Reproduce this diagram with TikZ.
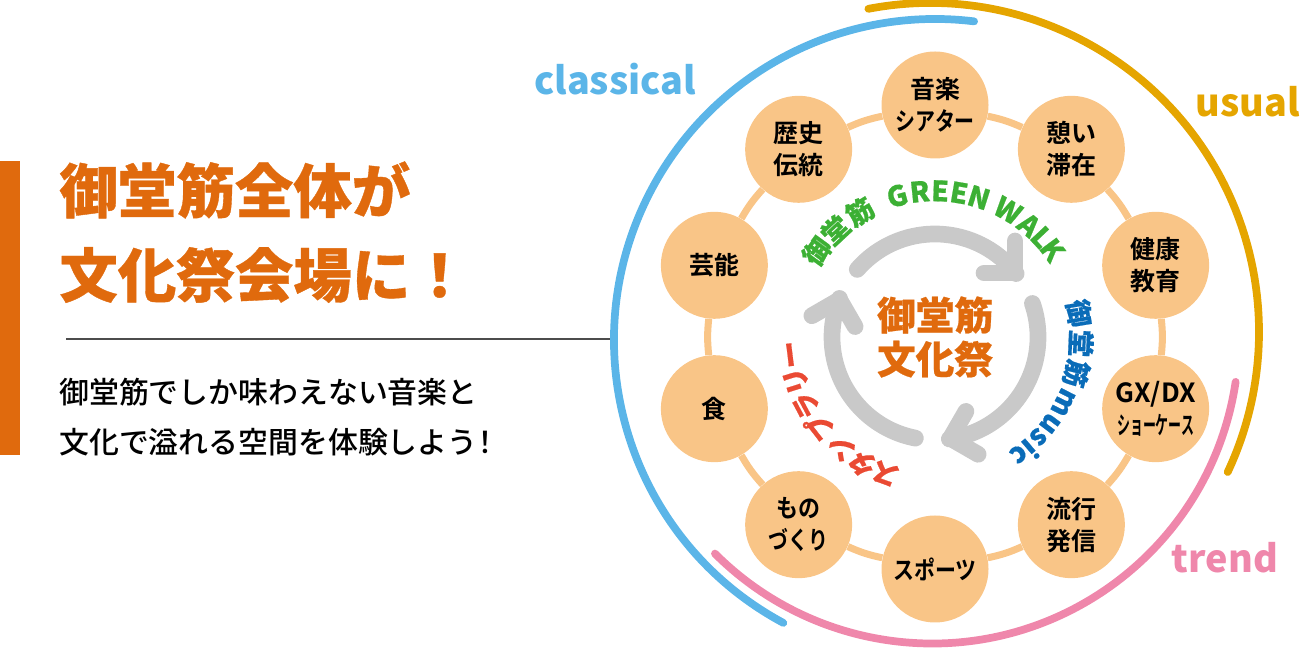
\documentclass[tikz,border=0pt]{standalone}
\usetikzlibrary{calc}
\usepackage{fontspec}
\setmainfont{Noto Sans CJK JP}
\newfontfamily\jpblack[FakeBold=0.6]{Noto Sans CJK JP Black}
\newfontfamily\jpplain{Noto Sans CJK JP Black}
\newfontfamily\jpbold{Noto Sans CJK JP Bold}
\newfontfamily\jpmed{Noto Sans CJK JP Medium}
\definecolor{festorange}{HTML}{E06A0D}
\definecolor{ringpeach}{HTML}{F9C587}
\definecolor{arrowgray}{HTML}{C9C9C9}
\definecolor{classblue}{HTML}{5BB5E8}
\definecolor{usualgold}{HTML}{E5A500}
\definecolor{trendpink}{HTML}{EF87AB}
\definecolor{walkgreen}{HTML}{3CB034}
\definecolor{musicblue}{HTML}{0A6CB8}
\definecolor{rallyred}{HTML}{EA4A33}
\newcommand\squeeze[2]{\scalebox{#1}[1]{#2}}
\tikzset{
  topic/.style={circle, fill=ringpeach, minimum size=107*0.02cm, inner sep=0pt, align=center,
    font=\jpbold\fontsize{14.2}{18.3}\selectfont},
  ringlink/.style={draw=ringpeach, line width=4pt},
  outerarc/.style={line width=4.4pt, line cap=round},
  turn/.style={draw=arrowgray, line width=9.5pt, line cap=round, line join=round},
  tag/.style={font=\jpplain\fontsize{21.5}{24}\selectfont},
  curved/.style={font=\jpblack\fontsize{15.5}{17}\selectfont, inner sep=0pt, text height=11.8pt, text depth=0pt},
  curvedlatin/.style={font=\jpblack\fontsize{16}{18}\selectfont, inner sep=0pt, text height=11.7pt, text depth=0pt},
  headline/.style={anchor=west, inner sep=0pt, text=festorange, font=\jpblack\fontsize{33.3}{38}\selectfont},
  bodyline/.style={anchor=west, inner sep=0pt, font=\jpmed\fontsize{17}{20}\selectfont},
}
\begin{document}
\begin{tikzpicture}[x=0.02cm,y=0.02cm]
\useasboundingbox (0,0) rectangle (1300,648);
\coordinate (C) at (935,311);
% left side
\fill[festorange] (0,193) rectangle (20,487);
\node[headline] (headA) at (59,458) {御堂筋全体が};
\node[headline] (headB) at (59,373) {文化祭会場に！};
\coordinate (ruleL) at (66,309);
\coordinate (ruleR) at (612,309);
\draw[black!70, line width=0.8pt] (ruleL) -- (ruleR);
\node[bodyline] (bodyA) at (59,256) {御堂筋でしか味わえない音楽と};
\node[bodyline] (bodyB) at (59,206) {文化で溢れる空間を体験しよう\kern-0.25em！};
% outer arcs
\draw[outerarc, classblue] (935,308) ++(241.8:321) arc[start angle=241.8, end angle=83, radius=321];
\draw[outerarc, usualgold] (930,316) ++(100.8:329) arc[start angle=100.8, end angle=-25.2, radius=329];
\draw[outerarc, trendpink] (932,311.5) ++(-8.5:307) arc[start angle=-8.5, end angle=-135, radius=307];
\node[tag, text=classblue] (classical) at (615,569) {classical};
\node[tag, text=usualgold] (usual) at (1248,546) {usual};
\node[tag, text=trendpink] (trend) at (1225,90) {trend};
% ring of topics
\foreach \a/\n/\t in {90/t0/{音楽\\\squeeze{.8}{シアター}}, 54/t1/{憩い\\滞在}, 18/t2/{健康\\教育},
  -18/t3/{{\fontsize{15}{15}\selectfont GX/DX}\\\squeeze{.52}{ショーケース}}, -54/t4/{流行\\発信}, -90/t5/{\squeeze{.84}{スポーツ}},
  -126/t6/{\squeeze{.88}{もの}\\\squeeze{.8}{づくり}}, -162/t7/{食}, -198/t8/{芸能}, -234/t9/{歴史\\伝統}}
  \node[topic] (\n) at ($(C)+(\a:232)$) {\t};
\foreach \i [remember=\i as \j (initially 9)] in {0,...,9}
  \draw[ringlink] (t\j) to[bend left=6] (t\i);
% turning arrows
\foreach \r in {0,-120,-240}{
  \begin{scope}[rotate around={\r:(C)}]
  \draw[turn] (C) ++(139:103) arc[start angle=139, end angle=38, radius=103];
  \draw[turn] (1015,407) -- (1015,375) -- (984,375);
  \end{scope}
}
% curved labels
\foreach \a/\c in {144/御,133/堂,121/筋}
  \node[curved, text=walkgreen, rotate=\a-90] at ($(C)+(\a:146)$) {\c};
\foreach \a/\c in {105/G,96/R,88/E,80.5/E,72.5/N,60/W,50/A,43/L,36.5/K}
  \node[curvedlatin, text=walkgreen, rotate=\a-90] at ($(C)+(\a:146)$) {\c};
\foreach \a/\c in {9.4/御,-2.5/堂,-14.5/筋}
  \node[curved, text=musicblue, rotate=\a-90] at ($(C)+(\a:146)$) {\c};
\foreach \a/\c in {-27/m,-37/u,-44/s,-49.5/i,-54.5/c}
  \node[curvedlatin, text=musicblue, rotate=\a-90] at ($(C)+(\a:146)$) {\c};
\foreach \a/\c in {-110/ス,-120/タ,-130/ン,-142/プ,-152/ラ,-162.5/リ,-173/ー}
  \node[curved, text=rallyred, rotate=\a-90] at ($(C)+(\a:146)$) {\c};
% centre title
\node[align=center, text=festorange, font=\jpblack\fontsize{22}{25}\selectfont] (title) at (C) {御堂筋\\文化祭};
\end{tikzpicture}
\end{document}
